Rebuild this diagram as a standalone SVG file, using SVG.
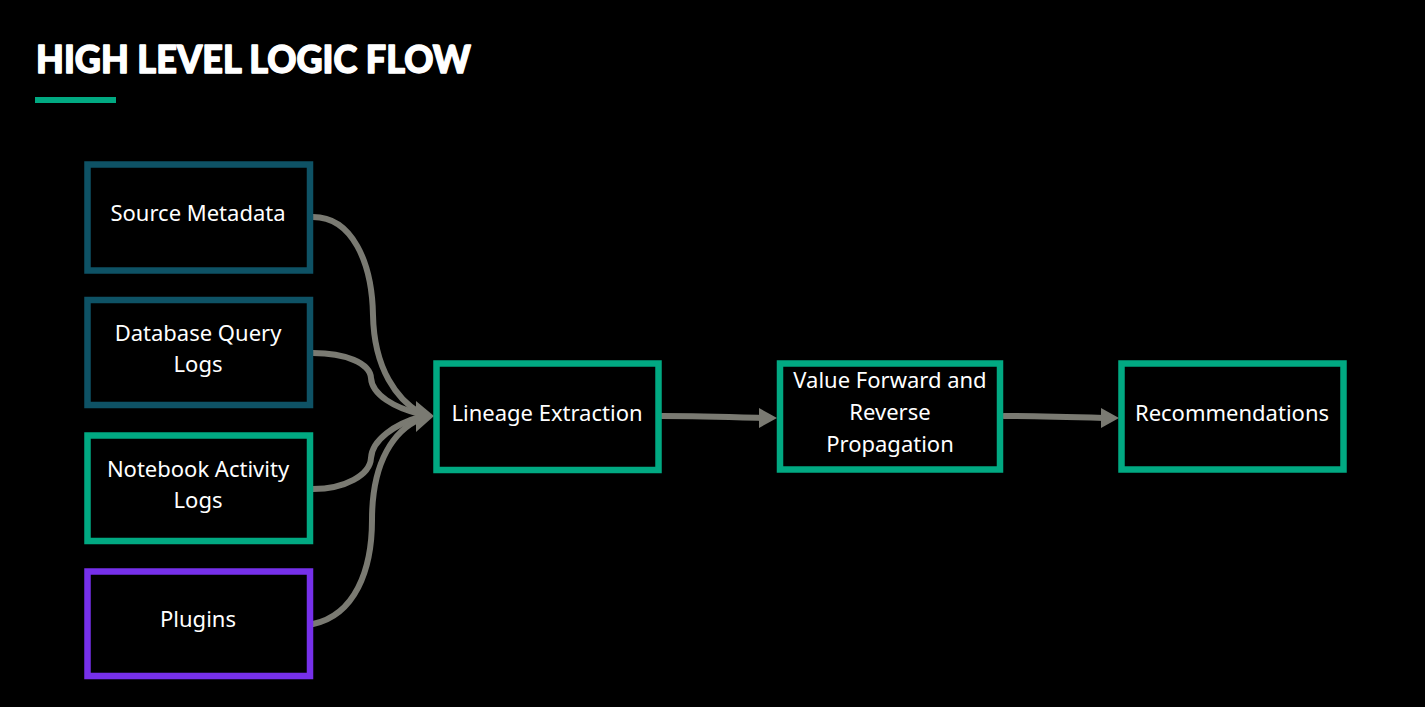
<svg xmlns="http://www.w3.org/2000/svg" width="1425" height="707" viewBox="0 0 1425 707">
<defs>
<style>
.bg{fill:#000}
.box{fill:#000;stroke-width:6.5}
.teal{stroke:#0e5265}
.green{stroke:#01a982}
.purple{stroke:#7630ea}
.lbl{fill:#fff;font-family:"Noto Sans","Open Sans",sans-serif;font-size:22px;text-anchor:middle}
.title{fill:#fff;stroke:#fff;stroke-width:1.4;stroke-linejoin:round;font-family:Lato,"Open Sans",sans-serif;font-weight:900;font-size:38px}
.conn{fill:none;stroke:#7a7a72;stroke-width:6;stroke-linecap:round}
.head{fill:#7a7a72}
</style>
</defs>
<rect class="bg" x="0" y="0" width="1425" height="707"/>
<g id="title">
<text class="title" x="36" y="73" textLength="435" lengthAdjust="spacingAndGlyphs">HIGH LEVEL LOGIC FLOW</text>
<rect x="35" y="97" width="81" height="6" fill="#01a982"/>
</g>
<g id="connectors">
<path class="conn" d="M313,217 C352,217 372,262 373,315 C374,370 398,400 420,413"/>
<path class="conn" d="M313,353 C345,353 370,363 371,378 C372,395 395,408 420,414"/>
<path class="conn" d="M313,489 C345,489 370,475 371,458 C372,440 395,424 420,417"/>
<path class="conn" d="M313,624 C355,615 372,570 372,520 C372,460 395,430 420,419"/>
<polygon class="head" points="416,401 434,416 416,432"/>
<path class="conn" d="M662,416 C700,416 730,417 762,418"/>
<polygon class="head" points="759,408 777,418 759,428"/>
<path class="conn" d="M1004,416 C1040,416 1072,417 1104,418"/>
<polygon class="head" points="1101,408 1119,418 1101,428"/>
</g>
<g id="source-metadata">
<rect class="box teal" x="87.5" y="164.5" width="222.5" height="106"/>
<text class="lbl" x="198" y="221">Source Metadata</text>
</g>
<g id="database-query-logs">
<rect class="box teal" x="87.5" y="300" width="222.5" height="105"/>
<text class="lbl" x="198" y="341">Database Query</text>
<text class="lbl" x="198" y="372">Logs</text>
</g>
<g id="notebook-activity-logs">
<rect class="box green" x="87.5" y="435.5" width="222.5" height="105.5"/>
<text class="lbl" x="198" y="477">Notebook Activity</text>
<text class="lbl" x="198" y="508">Logs</text>
</g>
<g id="plugins">
<rect class="box purple" x="87.5" y="571.5" width="222.5" height="104.5"/>
<text class="lbl" x="198" y="627">Plugins</text>
</g>
<g id="lineage-extraction">
<rect class="box green" x="436.5" y="363.5" width="222" height="106.5"/>
<text class="lbl" x="547" y="421">Lineage Extraction</text>
</g>
<g id="value-propagation">
<rect class="box green" x="780" y="363.5" width="220" height="106"/>
<text class="lbl" x="890" y="388">Value Forward and</text>
<text class="lbl" x="890" y="420">Reverse</text>
<text class="lbl" x="890" y="452">Propagation</text>
</g>
<g id="recommendations">
<rect class="box green" x="1121.5" y="363.5" width="222" height="106"/>
<text class="lbl" x="1232" y="421">Recommendations</text>
</g>
</svg>
